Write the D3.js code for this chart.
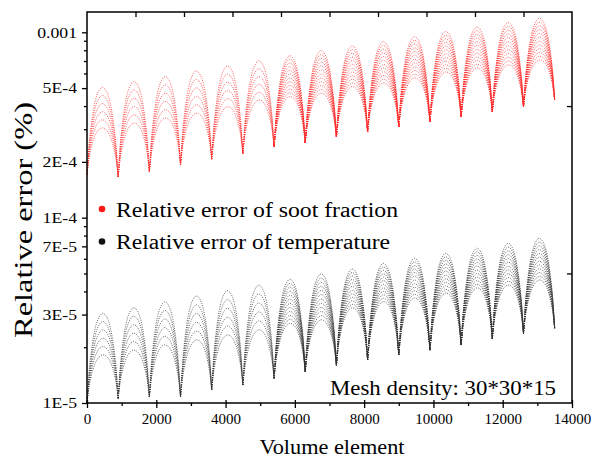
<!DOCTYPE html>
<html>
<head>
<meta charset="utf-8">
<script src="https://cdn.jsdelivr.net/npm/d3@7"></script>
<style>
body { margin: 0; background: #fff; }
</style>
</head>
<body>
<div class="main"></div>
<script>
// volume element index at each trough (layer boundaries, 30*30 cells per layer)
var troughX = [0, 900, 1800, 2700, 3600, 4500, 5400, 6300, 7200, 8100, 9000, 9900, 10800, 11700, 12600, 13500];

// soot fraction error: top of each arch, lowest row at arch centre, troughs
var sootPeak = [5.05e-4, 5.42e-4, 5.77e-4, 6.19e-4, 6.59e-4, 7.01e-4, 7.49e-4, 7.96e-4, 8.45e-4, 8.91e-4, 9.48e-4, 1.01e-3, 1.07e-3, 1.13e-3, 1.19e-3];
var sootInner = [3.05e-4, 3.24e-4, 3.45e-4, 3.66e-4, 3.97e-4, 4.31e-4, 4.50e-4, 4.69e-4, 5.09e-4, 5.33e-4, 5.67e-4, 6.11e-4, 6.42e-4, 6.67e-4, 7.09e-4];
var sootTrough = [1.70e-4, 1.66e-4, 1.77e-4, 1.93e-4, 2.07e-4, 2.22e-4, 2.42e-4, 2.54e-4, 2.73e-4, 2.91e-4, 3.10e-4, 3.30e-4, 3.51e-4, 3.73e-4, 3.97e-4, 4.31e-4];

// temperature error
var tempPeak = [3.05e-5, 3.27e-5, 3.52e-5, 3.78e-5, 4.04e-5, 4.33e-5, 4.65e-5, 4.97e-5, 5.29e-5, 5.67e-5, 6.04e-5, 6.43e-5, 6.84e-5, 7.27e-5, 7.74e-5];
var tempInner = [1.82e-5, 1.93e-5, 2.06e-5, 2.19e-5, 2.33e-5, 2.48e-5, 2.69e-5, 2.81e-5, 3.26e-5, 3.52e-5, 3.69e-5, 3.92e-5, 4.18e-5, 4.33e-5, 4.61e-5];
var tempTrough = [1.00e-5, 1.06e-5, 1.08e-5, 1.08e-5, 1.18e-5, 1.25e-5, 1.36e-5, 1.48e-5, 1.60e-5, 1.71e-5, 1.82e-5, 1.93e-5, 2.06e-5, 2.23e-5, 2.38e-5, 2.53e-5];

var archPos  = [0, 0.04, 0.08, 0.17, 0.25, 0.33, 0.42, 0.5, 0.58, 0.67, 0.75, 0.83, 0.92, 0.96, 1];
var archLift = [0, 0.22, 0.4, 0.66, 0.82, 0.92, 0.98, 1, 0.98, 0.92, 0.82, 0.66, 0.4, 0.22, 0];

// row levels inside an arch (0 = lowest row, 1 = top row)
var sparseRows = [0, 0.2, 0.4, 0.6, 0.8, 1];
var denseRows = [0, 0.09, 0.18, 0.27, 0.36, 0.45, 0.55, 0.64, 0.73, 0.82, 0.91, 1];
var denseFrom = 6;

var xTicks = [0, 2000, 4000, 6000, 8000, 10000, 12000, 14000];
var xMinor = [1000, 3000, 5000, 7000, 9000, 11000, 13000];
var topTicks = [1400, 2800, 4200, 5600, 7000, 8400, 9800, 11200, 12600];
var yTicks = [1e-5, 3e-5, 7e-5, 1e-4, 2e-4, 5e-4, 1e-3];
var yLabels = ["1E-5", "3E-5", "7E-5", "1E-4", "2E-4", "5E-4", "0.001"];
var yMinor = [2e-5, 4e-5, 5e-5, 6e-5, 8e-5, 9e-5, 3e-4, 4e-4, 6e-4, 7e-4, 8e-4, 9e-4];
var rightTicks = [5e-5, 4e-4];

var serif = "'Liberation Serif', 'Times New Roman', serif";

var W = 593, H = 465;
var svg = d3.select(".main").append("svg")
  .attr("width", W).attr("height", H)
  .style("font-family", serif);

var x = d3.scaleLinear().domain([0, 14000]).range([87, 572]);
var y = d3.scaleLog().domain([1e-5, 1.287e-3]).range([403, 12]);

// build the rows of one series
function rows(peak, inner, trough) {
  var out = [];
  peak.forEach(function(p, k) {
    var lv = k >= denseFrom ? denseRows : sparseRows;
    var x0 = troughX[k], x1 = troughX[k + 1];
    var l0 = Math.log(trough[k]), l1 = Math.log(trough[k + 1]);
    lv.forEach(function(f) {
      var top = Math.log(inner[k]) + f * (Math.log(p) - Math.log(inner[k]));
      var pts = archPos.map(function(t, i) {
        var base = l0 + t * (l1 - l0);
        var mid = l0 + 0.5 * (l1 - l0);
        return [x0 + t * (x1 - x0), Math.exp(base + archLift[i] * (top - mid))];
      });
      out.push(pts);
    });
  });
  return out;
}

var line = d3.line()
  .x(function(d) { return x(d[0]); })
  .y(function(d) { return y(d[1]); })
  .curve(d3.curveCatmullRom);

var plot = svg.append("g");

plot.selectAll(".soot").data(rows(sootPeak, sootInner, sootTrough))
  .enter().append("path").attr("class", "soot")
  .attr("d", line)
  .style("fill", "none").style("stroke", "#ff2a2a")
  .style("stroke-width", 1).style("stroke-dasharray", "1 1.3")
  .style("opacity", 0.75);

plot.selectAll(".temp").data(rows(tempPeak, tempInner, tempTrough))
  .enter().append("path").attr("class", "temp")
  .attr("d", line)
  .style("fill", "none").style("stroke", "#333")
  .style("stroke-width", 1).style("stroke-dasharray", "1 1.3")
  .style("opacity", 0.75);

// frame
svg.append("rect")
  .attr("x", 87).attr("y", 12).attr("width", 485).attr("height", 391)
  .style("fill", "none").style("stroke", "#000").style("stroke-width", 1.5);

function styleAxis(g, size) {
  g.attr("font-family", serif);
  g.select(".domain").remove();
  g.selectAll("line").style("stroke", "#000").style("stroke-width", 1.3);
  g.selectAll("text").style("font-family", serif).style("font-size", size).style("fill", "#000");
}

// widen a text the way the original lettering is stretched
function stretch(sel, k) {
  sel.each(function() {
    var w = this.getComputedTextLength();
    d3.select(this).attr("textLength", w * k).attr("lengthAdjust", "spacingAndGlyphs");
  });
}

// bottom axis
svg.append("g").attr("transform", "translate(0,403)")
  .call(d3.axisBottom(x).tickValues(xTicks).tickSize(5).tickPadding(5).tickFormat(d3.format("d")))
  .call(function(g) {
    styleAxis(g, "15px");
    g.selectAll("line").attr("y1", -3);
  });
svg.append("g").attr("transform", "translate(0,403)")
  .call(d3.axisBottom(x).tickValues(xMinor).tickSize(3).tickFormat(""))
  .call(styleAxis, "15px");

// top axis, inward ticks
svg.append("g").attr("transform", "translate(0,12)")
  .call(d3.axisBottom(x).tickValues(topTicks).tickSize(5).tickFormat(""))
  .call(styleAxis, "15px");

// left axis
svg.append("g").attr("transform", "translate(87,0)")
  .call(d3.axisLeft(y).tickValues(yTicks).tickSize(5).tickPadding(5)
    .tickFormat(function(d, i) { return yLabels[i]; }))
  .call(styleAxis, "15px")
  .call(function(g) { stretch(g.selectAll("text"), 1.18); });
svg.append("g").attr("transform", "translate(87,0)")
  .call(d3.axisLeft(y).tickValues(yMinor).tickSize(3).tickFormat(""))
  .call(styleAxis, "15px");

// right axis, inward ticks
svg.append("g").attr("transform", "translate(572,0)")
  .call(d3.axisLeft(y).tickValues(rightTicks).tickSize(5).tickFormat(""))
  .call(styleAxis, "15px");

// axis titles
svg.append("text")
  .attr("x", 332).attr("y", 454)
  .style("text-anchor", "middle").style("font-size", "20px")
  .attr("textLength", 145).attr("lengthAdjust", "spacingAndGlyphs")
  .text("Volume element");

svg.append("text")
  .attr("transform", "translate(32,220) rotate(-90)")
  .style("text-anchor", "middle").style("font-size", "26px")
  .attr("textLength", 236).attr("lengthAdjust", "spacingAndGlyphs")
  .text("Relative error (%)");

// legend
var legend = [
  {name: "Relative error of soot fraction", color: "#ff1a1a", len: 282},
  {name: "Relative error of temperature", color: "#111", len: 274}
];
var lg = svg.selectAll(".legend").data(legend).enter().append("g")
  .attr("class", "legend")
  .attr("transform", function(d, i) { return "translate(102," + (209 + i * 32.5) + ")"; });
lg.append("circle").attr("r", 3.3).style("fill", function(d) { return d.color; });
lg.append("text").attr("x", 14).attr("y", 7.5)
  .style("font-size", "20px")
  .attr("textLength", function(d) { return d.len; }).attr("lengthAdjust", "spacingAndGlyphs")
  .text(function(d) { return d.name; });

svg.append("text")
  .attr("x", 330).attr("y", 395)
  .style("font-size", "22px")
  .attr("textLength", 226).attr("lengthAdjust", "spacingAndGlyphs")
  .text("Mesh density: 30*30*15");
</script>
</body>
</html>
